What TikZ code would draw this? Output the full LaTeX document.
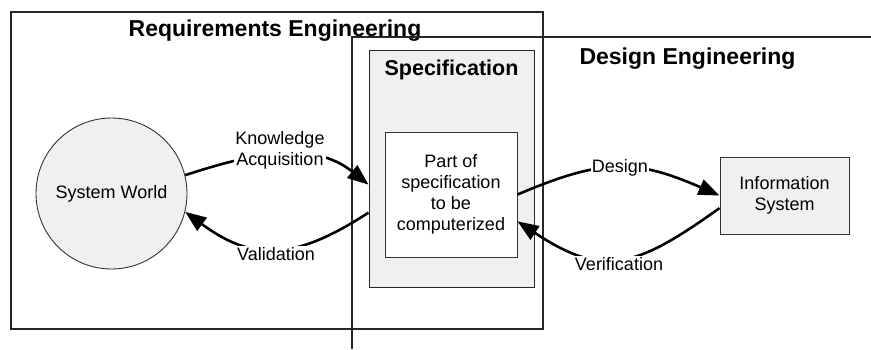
\documentclass[tikz,border=0pt]{standalone}
\usepackage{fontspec}
\setmainfont{Liberation Sans}
\usetikzlibrary{arrows.meta}
\definecolor{paneGray}{HTML}{F0F0F0}
\definecolor{edgeGray}{HTML}{333333}
\tikzset{
  frameline/.style={draw=black!85, line width=1.7pt},
  titletext/.style={font=\fontsize{23}{27}\selectfont\bfseries, inner sep=0pt},
  spectitle/.style={font=\fontsize{21.5}{25}\selectfont\bfseries, inner sep=0pt},
  plaintext/.style={font=\fontsize{18}{21}\selectfont, align=center},
  specbox/.style={draw=black!85, line width=1pt, fill=paneGray, inner sep=0pt},
  partbox/.style={draw=edgeGray, line width=1pt, fill=white, inner sep=0pt,
    minimum width=132pt, minimum height=125pt, plaintext},
  infobox/.style={draw=edgeGray, line width=1pt, fill=paneGray, inner sep=0pt,
    minimum width=129pt, minimum height=77pt, plaintext},
  worldnode/.style={circle, draw=edgeGray, line width=0.9pt, fill=paneGray,
    minimum size=151pt, inner sep=0pt, plaintext},
  flow/.style={line width=2.6pt, -{Triangle[length=21pt,width=16pt]}},
  flowlabel/.style={plaintext, fill=white, inner sep=1pt}
}
\begin{document}
\begin{tikzpicture}[x=1pt,y=-1pt]
  \useasboundingbox (0,0) rectangle (871,349);

  % Requirements engineering frame
  \node[frameline, minimum width=532pt, minimum height=317pt, inner sep=0pt,
        anchor=north west] (req) at (10,11) {};
  \node[titletext, anchor=base] (reqtitle) at (275,36) {Requirements Engineering};

  % Design engineering frame (open corner)
  \coordinate (dstart) at (871,37);
  \coordinate (dcorner) at (352,37);
  \coordinate (dend) at (352,349);
  \draw[frameline] (dstart) -- (dcorner) -- (dend);
  \node[titletext, anchor=base] (destitle) at (687.5,64) {Design Engineering};

  % Specification
  \node[specbox, minimum width=165pt, minimum height=237pt] (spec) at (451.5,168.5) {};
  \node[spectitle, anchor=base] (spectitle) at (451.5,75) {Specification};
  \node[partbox] (part) at (451,194.5) {Part of\\specification\\to be\\computerized};

  % System world and information system
  \node[worldnode] (sw) at (111.5,193.5) {System World};
  \node[infobox] (info) at (784.5,195.5) {Information\\System};

  % Connectors
  \draw[flow] (sw.14) .. controls +(68,-22) and +(-56,-45) .. (spec.191);
  \draw[flow] (spec.208) .. controls +(-74,48) and +(68,50) .. (sw.-14);
  \draw[flow] (part.east) .. controls +(85,-36) and +(-85,-37) .. (info.west);
  \draw[flow] (info.191) .. controls +(-84,60) and +(86,57) .. (part.-22.6);

  % Connector labels
  \node[flowlabel] (lka) at (280,150) {Knowledge\\Acquisition};
  \node[flowlabel, anchor=base] (lval) at (276,260.5) {Validation};
  \node[flowlabel, anchor=base] (ldes) at (620,172.5) {Design};
  \node[flowlabel, anchor=base] (lver) at (619,270) {Verification};
\end{tikzpicture}
\end{document}
